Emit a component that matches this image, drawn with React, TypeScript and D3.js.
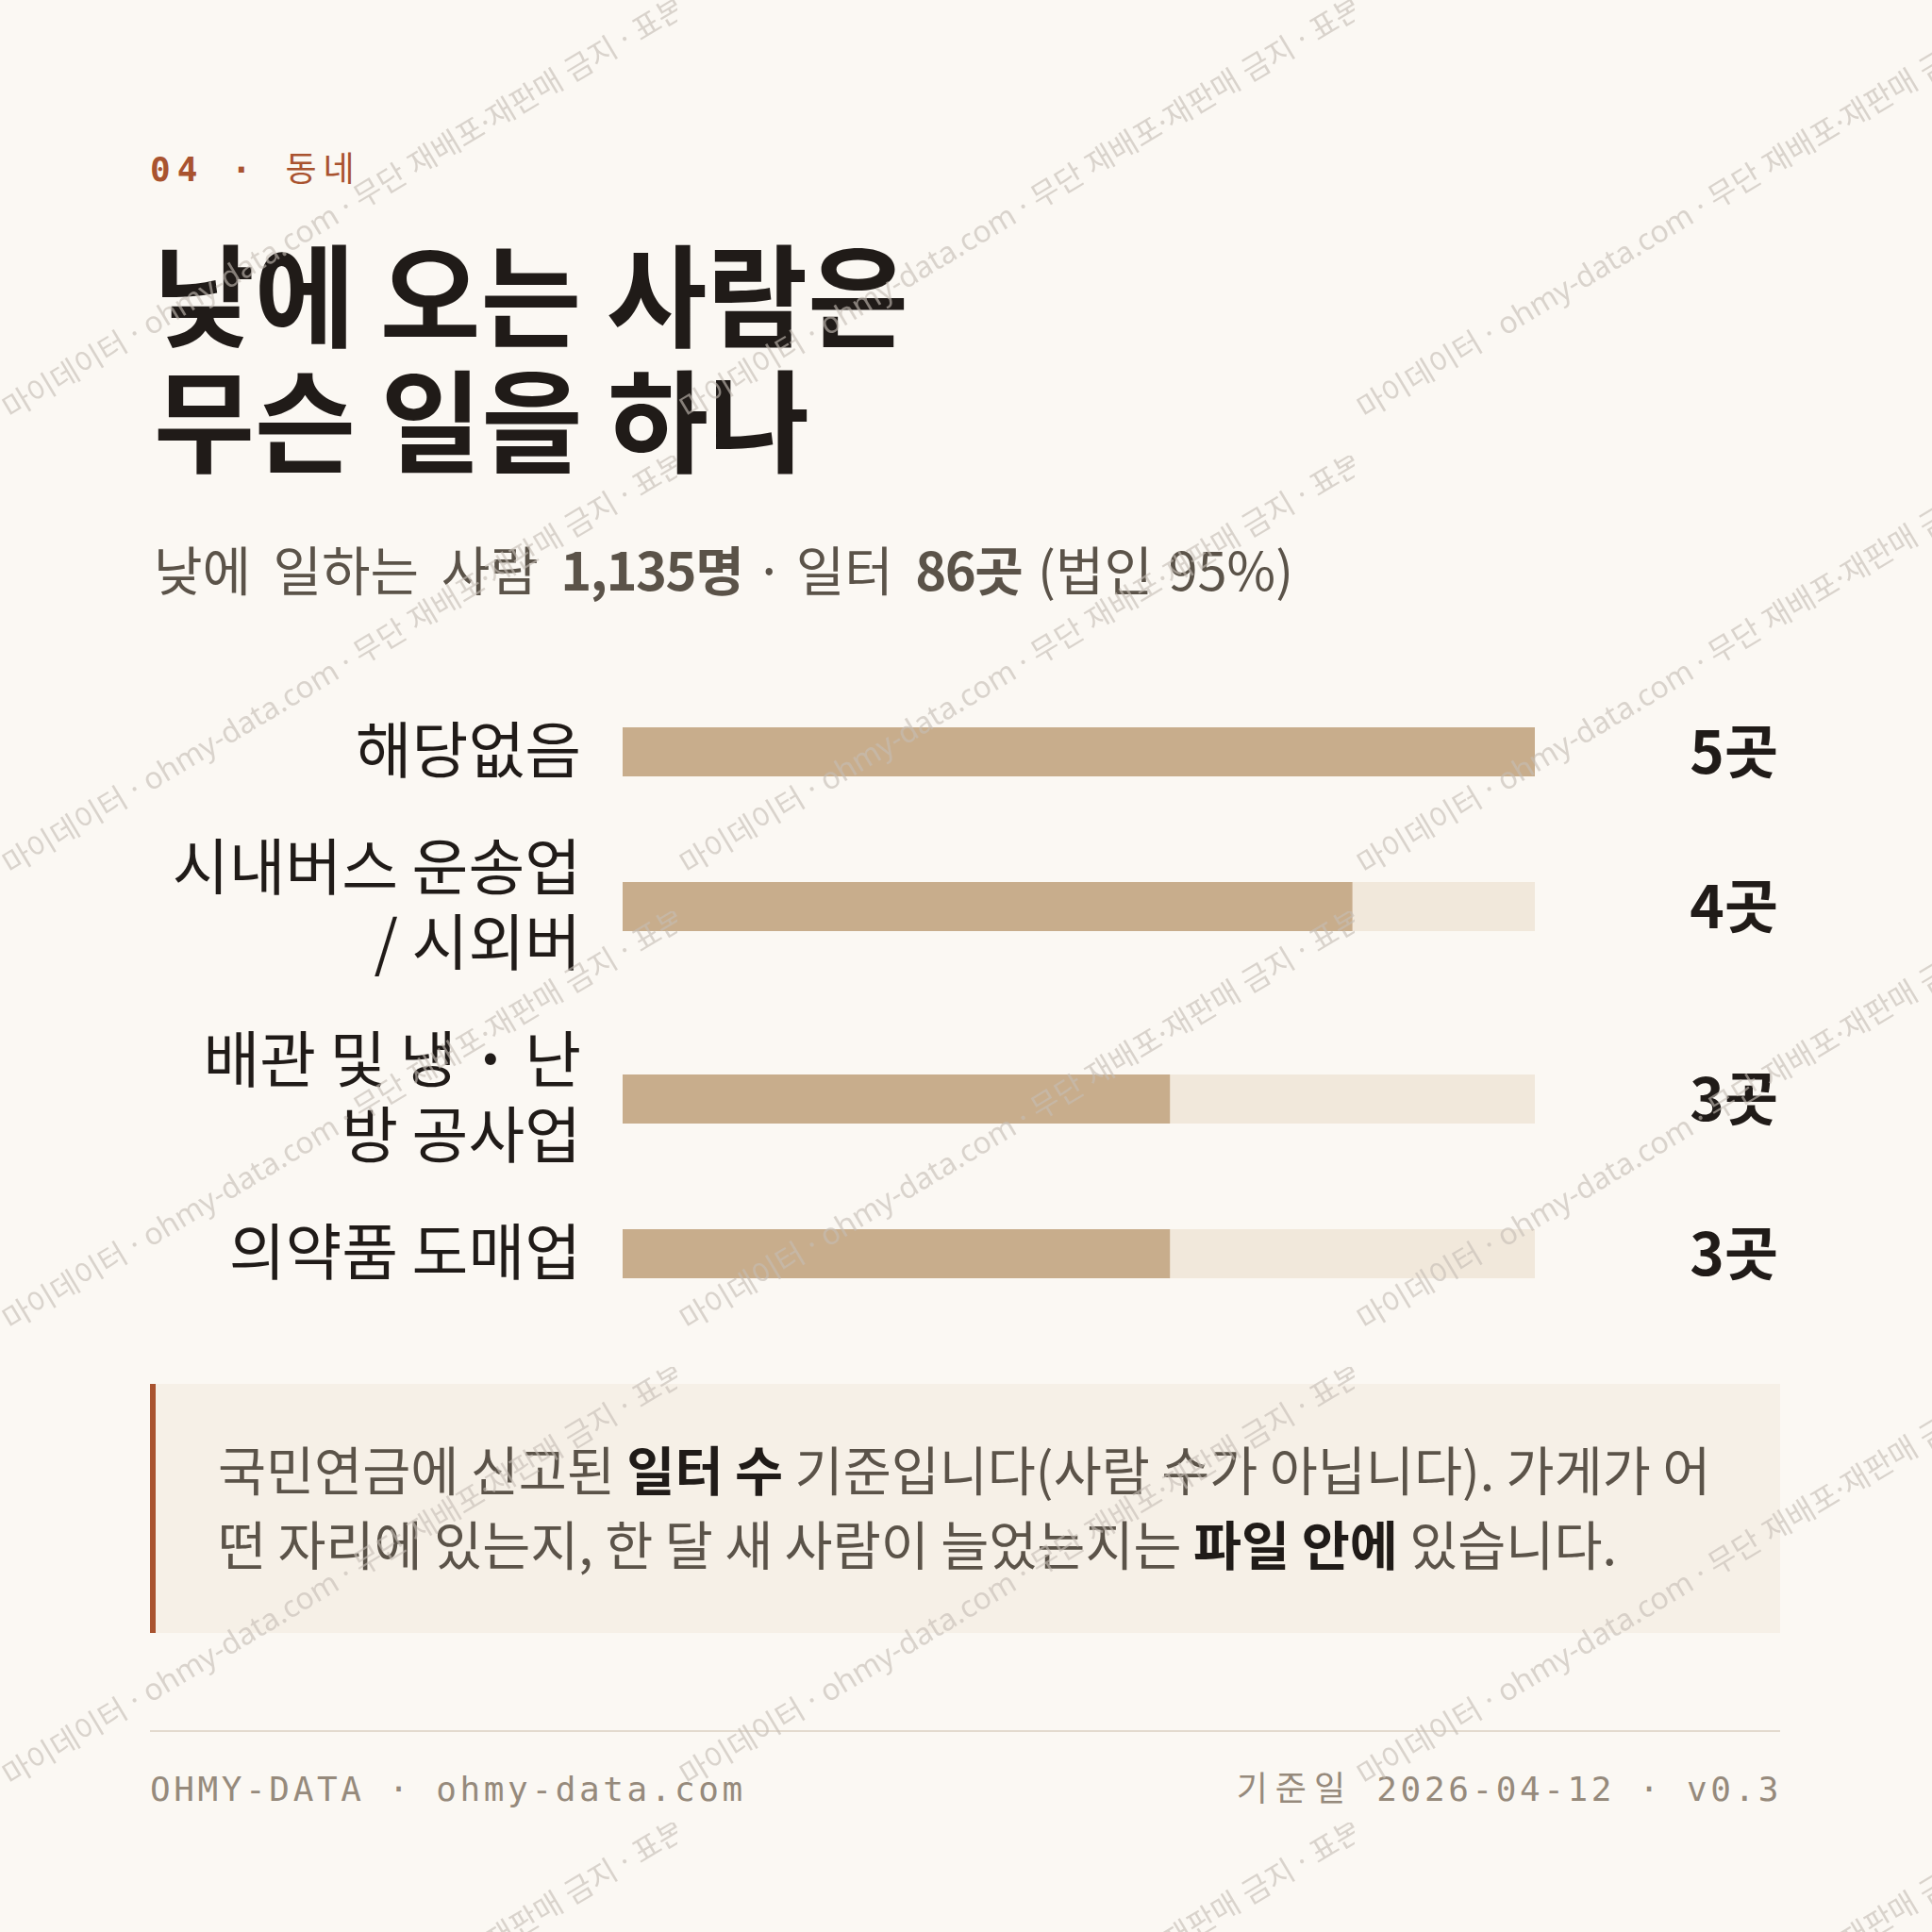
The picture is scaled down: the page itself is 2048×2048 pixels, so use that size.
import React from "react";
import * as d3 from "d3";

// ---------- data ----------
const kickerNumber = "04";
const kickerSection = "동네";
const titleLines = ["낮에 오는 사람은", "무슨 일을 하나"];
const subtitleParts = [
  { t: "낮에 일하는 사람 ", b: false, ws: 11 },
  { t: "1,135명", b: true, ws: 0 },
  { t: " · ", b: false, ws: 0 },
  { t: "일터 ", b: false, ws: 11 },
  { t: "86곳", b: true, ws: 0 },
  { t: " (법인 95%)", b: false, ws: 4 },
];
const categories = ["해당없음", "시내버스 운송업 / 시외버", "배관 및 냉·난방 공사업", "의약품 도매업"];
const categoryLines = [["해당없음"], ["시내버스 운송업", "/ 시외버"], ["배관 및 냉·난", "방 공사업"], ["의약품 도매업"]];
const counts = [5, 4, 3, 3];
const countUnit = "곳";
const domainMax = 5;
const noteLines = [
  [
    { t: "국민연금에 신고된 ", b: false },
    { t: "일터 수", b: true },
    { t: " 기준입니다(사람 수가 아닙니다). 가게가 어", b: false },
  ],
  [
    { t: "떤 자리에 있는지, 한 달 새 사람이 늘었는지는 ", b: false },
    { t: "파일 안에", b: true },
    { t: " 있습니다.", b: false },
  ],
];
const footerLeft = "OHMY-DATA · ohmy-data.com";
const footerRightLabel = "기준일";
const footerRightValue = " 2026-04-12 · v0.3";
const watermarkText = "· 마이데이터 · ohmy-data.com · 무단 재배포·재판매 금지 · 표본 데이터";

// ---------- style ----------
const W = 2048;
const H = 2048;
const KR = "'Noto Sans CJK KR', 'Noto Sans', sans-serif";
const WMF = "'Noto Sans', 'Noto Sans CJK KR', sans-serif";
const MONO = "'DejaVu Sans Mono', 'Noto Sans CJK KR', monospace";
const C = {
  bg: "#FBF8F3",
  accent: "#A9532F",
  ink: "#201B18",
  sub: "#5B5349",
  bar: "#C8AD8C",
  track: "#F1E8DB",
  note: "#F6F0E7",
  rule: "#E3DACE",
  foot: "#968A7C",
  wm: "#C4BDB4",
};

const left = 159;
const right = 1887;

function renderLabelLine(ln: string) {
  // the middle dot is set wider, as a full-width separator
  const parts = ln.split("·");
  return parts.map((p, k) => (
    <React.Fragment key={k}>
      {k > 0 && (
        <tspan dx={17} fontWeight={700}>
          ·
        </tspan>
      )}
      <tspan dx={k > 0 ? 17 : 0}>{p}</tspan>
    </React.Fragment>
  ));
}

export default function App() {
  const x = d3.scaleLinear().domain([0, domainMax]).range([660, 1627]);

  // row layout derived from number of label lines
  const lineH = 80;
  const gap = 44;
  let top = 757;
  const rows = categories.map((c, i) => {
    const lines = categoryLines[i];
    const h = lines.length * lineH;
    const center = top + h / 2;
    top += h + gap;
    return { c, lines, center, v: counts[i] };
  });
  const barH = 52;

  return (
    <div style={{ position: "absolute", left: 0, top: 0, width: W, height: H }}>
      <svg width={W} height={H} viewBox={`0 0 ${W} ${H}`} xmlns="http://www.w3.org/2000/svg">
        <defs>
          <pattern id="wm" patternUnits="userSpaceOnUse" x={0} y={0} width={718} height={483}>
            <text
              x={0}
              y={0}
              transform="translate(-3,454) rotate(-31)"
              fontFamily={WMF}
              fontSize={32}
              fill={C.wm}
              fillOpacity={0.62}
            >
              {watermarkText}
            </text>
          </pattern>
        </defs>
        <rect x={0} y={0} width={W} height={H} fill={C.bg} />

        {/* kicker */}
        <text x={left} y={192} fontFamily={MONO} fontSize={36} letterSpacing={7} fill={C.accent} fontWeight={700}>
          {kickerNumber} · <tspan fontWeight={400} fontFamily={KR}>{kickerSection}</tspan>
        </text>

        {/* title */}
        {titleLines.map((t, i) => (
          <text
            key={i}
            x={163}
            y={359 + i * 133}
            fontFamily={KR}
            fontWeight={700}
            fontSize={118}
            fill={C.ink}
            textLength={i === 0 ? 800 : 695}
            lengthAdjust="spacingAndGlyphs"
          >
            {t}
          </text>
        ))}

        {/* subtitle */}
        <text x={163} y={626} fontFamily={KR} fontSize={56} fill={C.sub}>
          {subtitleParts.map((p, i) => (
            <tspan key={i} fontWeight={p.b ? 700 : 400} letterSpacing={p.b ? -1.5 : 0} wordSpacing={p.ws}>
              {p.t}
            </tspan>
          ))}
        </text>

        {/* bars */}
        {rows.map((r, i) => (
          <g key={i}>
            {r.lines.map((ln, j) => (
              <text
                key={j}
                x={616}
                y={r.center + (j - (r.lines.length - 1) / 2) * lineH + 22}
                textAnchor="end"
                fontFamily={KR}
                fontSize={65}
                fill={C.ink}
              >
                {renderLabelLine(ln)}
              </text>
            ))}
            <rect x={x(0)} y={r.center - barH / 2} width={x(domainMax) - x(0)} height={barH} fill={C.track} />
            <rect x={x(0)} y={r.center - barH / 2} width={x(r.v) - x(0)} height={barH} fill={C.bar} />
            <text
              x={1885}
              y={r.center + 23}
              textAnchor="end"
              fontFamily={KR}
              fontWeight={700}
              fontSize={62}
              fill={C.ink}
            >
              {r.v}
              {countUnit}
            </text>
          </g>
        ))}

        {/* note box */}
        <rect x={left} y={1467} width={right - left} height={264} fill={C.note} />
        <rect x={left} y={1467} width={6} height={264} fill={C.accent} />
        {noteLines.map((ln, i) => (
          <text key={i} x={231} y={1580 + i * 79} fontFamily={KR} fontSize={55.5} fill={C.sub}>
            {ln.map((p, j) => (
              <tspan key={j} fontWeight={p.b ? 700 : 400} fill={p.b ? C.ink : C.sub}>
                {p.t}
              </tspan>
            ))}
          </text>
        ))}

        {/* footer */}
        <line x1={left} x2={right} y1={1835} y2={1835} stroke={C.rule} strokeWidth={2} />
        <text x={left} y={1909} fontFamily={MONO} fontSize={36} letterSpacing={3.6} fill={C.foot}>
          {footerLeft}
        </text>
        <text x={1889} y={1909} textAnchor="end" fontFamily={MONO} fontSize={36} letterSpacing={3.6} fill={C.foot}>
          <tspan letterSpacing={8}>{footerRightLabel}</tspan>
          {footerRightValue}
        </text>

        {/* watermark overlay */}
        <rect x={0} y={0} width={W} height={H} fill="url(#wm)" pointerEvents="none" />
      </svg>
    </div>
  );
}
